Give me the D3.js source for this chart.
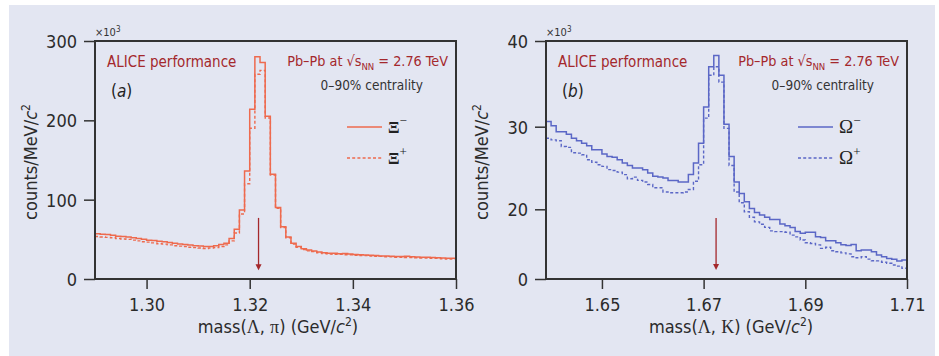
<!DOCTYPE html>
<html><head><meta charset="utf-8">
<script src="https://cdn.jsdelivr.net/npm/d3@7"></script>
<style>
html,body{margin:0;padding:0;background:#fff;}
svg text{font-family:"Liberation Sans Narrow","DejaVu Sans Condensed","DejaVu Sans",sans-serif;font-stretch:condensed;}
.tick text{font-size:18px;fill:#2b2b2b;}
.tick line{stroke:#333;stroke-width:1.5;}
.red{fill:#a4282c;}
.gr{font-family:"Liberation Serif","DejaVu Serif",serif !important;}
</style></head><body>
<svg id="chart" width="939" height="356"></svg>
<script>
/* two invariant-mass histograms side by side: Xi (a) and Omega (b),
   particle solid / antiparticle dashed, arrow at the PDG mass */

// bins: 1 MeV wide, starting at these masses (GeV/c^2)
const binW = 0.001;
const xiLo = 1.290, omLo = 1.639;

// counts/MeV/c^2 (x10^3), one value per bin
const xiMinus = [57, 56.5, 56, 55, 54, 53.5, 53, 52, 51, 50,
  49, 48.5, 47.5, 47, 46, 45, 44, 43.5, 43, 42,
  41.5, 41, 41, 42, 43.5, 45, 51, 62.6, 87, 136,
  214, 280, 273, 205, 132, 90, 66, 53, 45, 41,
  38, 36.5, 35.3, 34, 33, 32.5, 32.5, 31.8, 32, 31.5,
  30.8, 30.5, 30.2, 29.8, 29.5, 29, 29, 28.8, 28.5, 28.3,
  28.6, 28, 27.7, 27.5, 27.3, 27, 26.8, 26.5, 26.2, 26];
const xiPlus = [53.5, 53, 52.5, 52, 51, 50.5, 50, 49, 48, 47,
  46.5, 45.5, 44.5, 44, 43, 42, 41.5, 41, 40, 39.5,
  39, 38.5, 39, 39.5, 41, 43, 48, 58, 82, 120,
  190, 258, 263, 203, 131, 89, 65, 52, 44, 40,
  37, 35.5, 34.5, 33, 32, 31.5, 31, 31, 30.5, 30.5,
  30, 29.5, 29.5, 29, 28.5, 28.5, 28, 28, 27.5, 27.5,
  27, 27, 26.8, 26.5, 26.5, 26, 26, 25.5, 25.2, 25];
const omMinus = [30.6, 30.1, 29.4, 29.4, 29.1, 28.6, 28.3, 28.0, 27.7, 27.2,
  27.2, 26.7, 26.4, 26.3, 26.0, 25.6, 25.3, 25.0, 25.0, 24.8,
  24.4, 24.0, 23.9, 23.8, 23.5, 23.5, 23.3, 23.3, 24.2, 25.6,
  28.0, 32.3, 37.0, 38.3, 36.0, 30.3, 26.4, 23.3, 21.9, 20.9,
  20.1, 19.1, 18.4, 17.7, 17.1, 17.1, 15.8, 15.3, 14.8, 13.6,
  13.1, 13.4, 13.4, 12.1, 11.9, 11.0, 11.0, 10.4, 9.8, 9.6,
  9.9, 8.1, 8.3, 8.3, 7.8, 6.9, 6.4, 5.9, 5.7, 5.2, 5.45];
const omPlus = [28.6, 28.4, 28.3, 27.6, 27.5, 26.85, 26.8, 26.6, 26.0, 25.7,
  25.4, 25.2, 24.8, 24.7, 24.5, 24.2, 23.7, 23.9, 23.5, 23.3,
  23.0, 22.6, 22.6, 22.1, 22.0, 22.0, 22.0, 22.1, 22.4, 23.4,
  25.4, 31.0, 36.0, 37.0, 35.2, 29.8, 25.3, 22.1, 20.8, 19.3,
  17.7, 16.4, 15.7, 14.8, 13.8, 13.6, 13.6, 13.4, 12.6, 12.1,
  11.2, 10.4, 10.2, 9.8, 8.8, 9.1, 8.1, 7.8, 7.5, 7.2,
  6.4, 6.1, 6.4, 5.7, 5.25, 5.2, 4.8, 4.5, 4.0, 3.7, 3.1];

// axes
const xiTicksX = [1.30, 1.32, 1.34, 1.36], xiTicksY = [0, 100, 200, 300];
const omTicksX = [1.65, 1.67, 1.69, 1.71], omTicksY = [0, 20, 30, 40];
// the printed (b) axis is not evenly spaced: keep its tick positions
const omYStops = [0, 20, 30, 40];

// PDG mass arrows: [mass, from, to] in data units
const xiArrow = [1.32171, 77, 11];
const omArrow = [1.67245, 17.5, 2.6];

const svg = d3.select('#chart');
svg.append('rect').attr('x', 9).attr('y', 5).attr('width', 926).attr('height', 351).attr('fill', '#e3e6f2');

const T = 41, B = 279;

function panel(c) {
  const g = svg.append('g');
  const x = d3.scaleLinear().domain(c.xDom).range([c.l, c.r]);
  const y = c.y;

  // histograms, antiparticle (dashed) underneath
  const line = d3.line().x(d => x(d[0])).y(d => y(d[1])).curve(d3.curveStepAfter);
  const pts = vals => {
    const p = vals.map((v, i) => [c.lo + i * binW, v]);
    p.push([c.lo + vals.length * binW, vals[vals.length - 1]]);
    return p;
  };
  g.append('path').attr('d', line(pts(c.anti))).attr('fill', 'none')
    .attr('stroke', c.col).attr('stroke-width', 1.4).attr('stroke-dasharray', '3,2.2');
  g.append('path').attr('d', line(pts(c.part))).attr('fill', 'none')
    .attr('stroke', c.col).attr('stroke-width', 1.5);

  // arrow
  const ax = x(c.arrow[0]);
  g.append('line').attr('x1', ax).attr('x2', ax).attr('y1', y(c.arrow[1])).attr('y2', y(c.arrow[2]) - 4)
    .attr('stroke', '#a4282c').attr('stroke-width', 1.3);
  g.append('path').attr('d', `M${ax - 3},${y(c.arrow[2]) - 6}L${ax + 3},${y(c.arrow[2]) - 6}L${ax},${y(c.arrow[2])}Z`)
    .attr('fill', '#a4282c');

  // frame + axes
  g.append('rect').attr('x', c.l).attr('y', T).attr('width', c.r - c.l).attr('height', B - T)
    .attr('fill', 'none').attr('stroke', '#333').attr('stroke-width', 2);
  const ya = g.append('g').attr('transform', `translate(${c.l},0)`)
    .call(d3.axisLeft(y).tickValues(c.ty).tickSize(11).tickPadding(7).tickFormat(d3.format('d')));
  ya.select('.domain').remove();
  ya.selectAll('.tick text').attr('dy', '0.36em');
  const xa = g.append('g').attr('transform', `translate(0,${B})`)
    .call(d3.axisBottom(x).tickValues(c.tx).tickSize(10).tickPadding(9).tickFormat(d3.format('.2f')));
  xa.select('.domain').remove();

  // texts
  g.append('text').attr('x', c.l).attr('y', 36).attr('font-size', 11).attr('fill', '#333').text('×10')
    .append('tspan').attr('dy', -4).attr('font-size', 8).text('3');
  g.append('text').attr('class', 'red').attr('x', c.l + 12).attr('y', 67).attr('font-size', 15).text('ALICE performance');
  const pb = g.append('text').attr('class', 'red').attr('x', c.r - 8).attr('y', 66).attr('font-size', 14.3)
    .attr('text-anchor', 'end');
  pb.append('tspan').text('Pb–Pb at √s');
  pb.append('tspan').attr('dy', 4).attr('font-size', 9.5).text('NN');
  pb.append('tspan').attr('dy', -4).text(' = 2.76 TeV');
  g.append('text').attr('x', c.r - 33).attr('y', 90).attr('font-size', 13.5).attr('fill', '#333')
    .attr('text-anchor', 'end').text('0–90% centrality');
  const lab = g.append('text').attr('x', c.l + 16).attr('y', 97).attr('font-size', 17).attr('fill', '#222');
  lab.append('tspan').text('(');
  lab.append('tspan').attr('font-style', 'italic').text(c.tag);
  lab.append('tspan').text(')');

  // legend
  [[127, null, '−'], [158, '3,2.2', '+']].forEach(([ly, dash, sign]) => {
    g.append('line').attr('x1', c.lg).attr('x2', c.lg + 35).attr('y1', ly).attr('y2', ly)
      .attr('stroke', c.col).attr('stroke-width', 1.5).attr('stroke-dasharray', dash);
    const t = g.append('text').attr('class', 'gr').attr('x', c.lg + 41).attr('y', ly + 6)
      .attr('font-size', c.bold ? 17 : 19).attr('fill', '#222').attr('font-weight', c.bold ? 'bold' : 'normal');
    t.append('tspan').text(c.sym);
    t.append('tspan').attr('dy', -8).attr('font-size', 13).attr('font-weight', 'normal').text(sign);
  });

  // axis titles
  const yt = g.append('text').attr('transform', `translate(${c.l - 58},162) rotate(-90)`)
    .attr('text-anchor', 'middle').attr('font-size', 18).attr('fill', '#2b2b2b');
  yt.append('tspan').text('counts/MeV/');
  yt.append('tspan').attr('font-style', 'italic').text('c');
  yt.append('tspan').attr('dy', -7).attr('font-size', 12).text('2');
  const xt = g.append('text').attr('x', c.xc).attr('y', 333).attr('text-anchor', 'middle')
    .attr('font-size', 18).attr('fill', '#2b2b2b');
  xt.append('tspan').text('mass(');
  xt.append('tspan').attr('class', 'gr').text('Λ');
  xt.append('tspan').text(', ');
  xt.append('tspan').attr('class', 'gr').text(c.dau);
  xt.append('tspan').text(') (GeV/');
  xt.append('tspan').attr('font-style', 'italic').text('c');
  xt.append('tspan').attr('dy', -7).attr('font-size', 12).text('2');
  xt.append('tspan').attr('dy', 7).text(')');
}

panel({
  l: 95, r: 456, xDom: [xiLo, xiLo + xiMinus.length * binW], lo: xiLo,
  y: d3.scaleLinear().domain([0, 300]).range([B, T]),
  tx: xiTicksX, ty: xiTicksY, part: xiMinus, anti: xiPlus, col: '#ee6a4e',
  arrow: xiArrow, tag: 'a', lg: 347, sym: 'Ξ', bold: true, dau: 'π', xc: 278
});
panel({
  l: 546, r: 907, xDom: [omLo, omLo + omMinus.length * binW], lo: omLo,
  y: d3.scaleLinear().domain(omYStops).range([B, 209.3, 126.7, T]),
  tx: omTicksX, ty: omTicksY, part: omMinus, anti: omPlus, col: '#5b67c6',
  arrow: omArrow, tag: 'b', lg: 798, sym: 'Ω', bold: false, dau: 'K', xc: 731
});
</script>
</body></html>
